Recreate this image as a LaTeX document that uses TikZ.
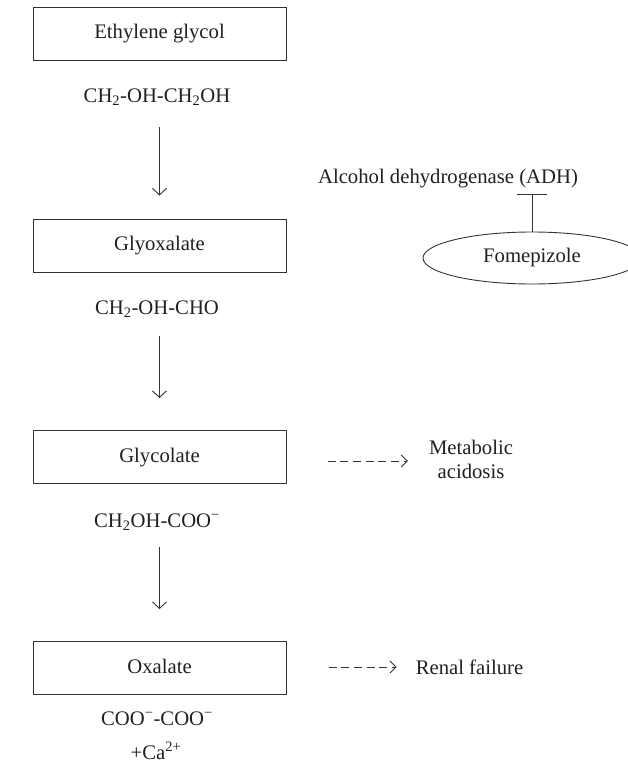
\documentclass[tikz,border=0pt]{standalone}
\usepackage{fontspec}
\setmainfont{Liberation Serif}
\usetikzlibrary{arrows.meta,shapes.geometric}
\definecolor{ink}{HTML}{231F20}
\definecolor{linec}{HTML}{333333}
\begin{document}
\begin{tikzpicture}[x=1pt,y=-1pt,
  every node/.style={font=\fontsize{20.7}{24}\selectfont, text=ink, inner sep=0pt},
  stagebox/.style={draw=linec, line width=1pt, minimum width=253pt, minimum height=53pt, text height=14pt, text depth=4pt},
  formula/.style={anchor=base},
  arr/.style={draw=linec, line width=0.9pt, -{Straight Barb[length=6.5pt,width=14pt,line width=0.9pt]}},
  dasharr/.style={draw=linec, line width=0.9pt, dash pattern=on 8pt off 4.7pt, -{Straight Barb[length=6pt,width=12pt,line width=0.9pt]}},
  inhib/.style={draw=linec, line width=0.9pt, -{Bar[width=30pt,line width=0.9pt]}}
]
\useasboundingbox (0,0) rectangle (628,763);

% stage boxes
\node[stagebox] (b1) at (159.5,33.5) {Ethylene glycol};
\node[stagebox] (b2) at (159.5,245.5) {Glyoxalate};
\node[stagebox] (b3) at (159.5,457) {Glycolate};
\node[stagebox] (b4) at (159.5,668) {Oxalate};

% formulas
\node[formula] (f1) at (157,102) {CH\textsubscript{2}-OH-CH\textsubscript{2}OH};
\node[formula] (f2) at (157,314) {CH\textsubscript{2}-OH-CHO};
\node[formula] (f3) at (157,527) {CH\textsubscript{2}OH-COO\textsuperscript{−}};
\node[formula] (f4) at (157,725) {COO\textsuperscript{−}-COO\textsuperscript{−}};
\node[formula] (f5) at (156,759) {+Ca\textsuperscript{2+}};

% main pathway arrows
\draw[arr, shorten <=22pt, shorten >=23pt] (b2.north |- f1.south) -- (b2.north);
\draw[arr, shorten <=19pt, shorten >=32pt] (b3.north |- f2.south) -- (b3.north);
\draw[arr, shorten <=17pt, shorten >=32pt] (b4.north |- f3.south) -- (b4.north);

% enzyme and inhibitor
\node[formula] (adh) at (448,183) {Alcohol dehydrogenase (ADH)};
\node[draw=linec, line width=0.9pt, ellipse, minimum width=218pt, minimum height=52pt] (fom) at (532,258) {Fomepizole};
\coordinate (bar) at (532,194);
\draw[inhib] (fom.north) -- (bar);

% outcomes
\node[align=center] (met) at (471,459) {Metabolic\\acidosis};
\node (rf) at (469.5,667) {Renal failure};
\draw[dasharr, shorten <=41pt, shorten >=21pt] (b3.east |- 0,461) -- (met.west |- 0,461);
\draw[dasharr, shorten <=42pt, shorten >=19pt] (b4.east |- rf.west) -- (rf.west);
\end{tikzpicture}
\end{document}
